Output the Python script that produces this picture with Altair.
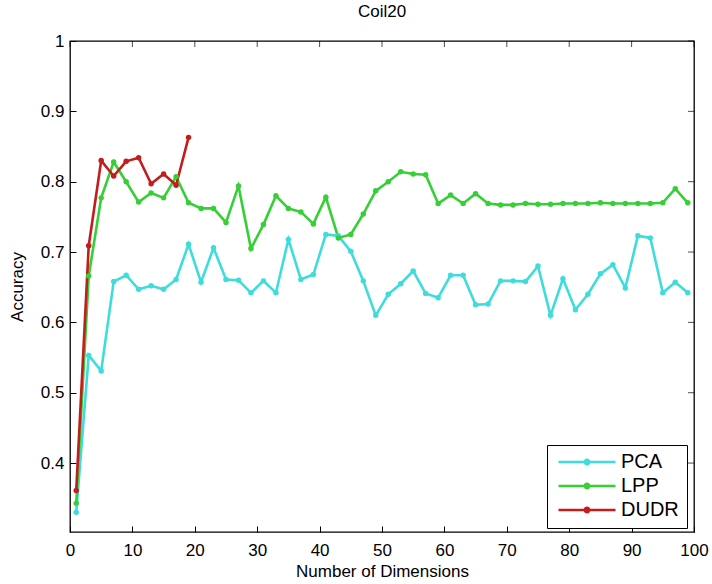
import altair as alt
import pandas as pd

# ---- data ----
dims = [1, 3, 5, 7, 9, 11, 13, 15, 17, 19, 21, 23, 25, 27, 29, 31, 33, 35, 37, 39,
        41, 43, 45, 47, 49, 51, 53, 55, 57, 59, 61, 63, 65, 67, 69, 71, 73, 75, 77, 79,
        81, 83, 85, 87, 89, 91, 93, 95, 97, 99]
pca = [0.330, 0.553, 0.531, 0.658, 0.667, 0.647, 0.652, 0.647, 0.661, 0.711,
       0.657, 0.706, 0.661, 0.660, 0.642, 0.659, 0.642, 0.718, 0.661, 0.668,
       0.725, 0.723, 0.701, 0.659, 0.610, 0.640, 0.655, 0.673, 0.641, 0.635,
       0.667, 0.667, 0.625, 0.626, 0.659, 0.659, 0.658, 0.680, 0.610, 0.662,
       0.618, 0.640, 0.669, 0.682, 0.649, 0.723, 0.720, 0.642, 0.657, 0.642]
lpp = [0.343, 0.666, 0.777, 0.828, 0.800, 0.771, 0.784, 0.777, 0.807, 0.770,
       0.762, 0.762, 0.742, 0.794, 0.705, 0.739, 0.780, 0.762, 0.757, 0.740,
       0.778, 0.720, 0.725, 0.754, 0.787, 0.800, 0.814, 0.811, 0.810, 0.769,
       0.781, 0.769, 0.783, 0.769, 0.767, 0.767, 0.769, 0.768, 0.768, 0.769,
       0.769, 0.769, 0.770, 0.769, 0.769, 0.769, 0.769, 0.770, 0.790, 0.770]
dudr_dims = [1, 3, 5, 7, 9, 11, 13, 15, 17, 19]
dudr = [0.361, 0.709, 0.830, 0.808, 0.829, 0.834, 0.797, 0.811, 0.795, 0.863]

methods = ["PCA", "LPP", "DUDR"]
colors = ["#3fdcdc", "#36cf36", "#c41c1c"]
x_ticks = [0, 10, 20, 30, 40, 50, 60, 70, 80, 90, 100]
y_ticks = [0.4, 0.5, 0.6, 0.7, 0.8, 0.9, 1.0]

rows = []
for d, v in zip(dims, pca):
    rows.append({"dim": d, "acc": v, "method": "PCA"})
for d, v in zip(dims, lpp):
    rows.append({"dim": d, "acc": v, "method": "LPP"})
for d, v in zip(dudr_dims, dudr):
    rows.append({"dim": d, "acc": v, "method": "DUDR"})
df = pd.DataFrame(rows)
xt = pd.DataFrame({"dim": x_ticks})
yt = pd.DataFrame({"acc": y_ticks})

W, H = 624, 491
FONT = "Liberation Sans"

xscale = alt.Scale(domain=[0, 100], nice=False, zero=False)
yscale = alt.Scale(domain=[0.302, 1.0], nice=False, zero=False)
xaxis = alt.Axis(values=x_ticks, title="Number of Dimensions", domain=False,
                 grid=False, offset=-6, tickSize=6, tickColor="black",
                 labelPadding=10, titlePadding=5, format="d", labelFlush=False)
yaxis = alt.Axis(values=y_ticks, title="Accuracy", domain=False, grid=False,
                 offset=-6, tickSize=6, tickColor="black", labelPadding=6,
                 titlePadding=14, format="~g", labelFlush=False)

# legend symbol: a short line with a small dot in its middle
legend_path = "M-1,0L1,0M-0.075,0A0.075,0.075,0,1,0,0.075,0A0.075,0.075,0,1,0,-0.075,0Z"
cscale = alt.Scale(domain=methods, range=colors)
leg = alt.Legend(
    orient="none", legendX=477, legendY=404, title=None,
    symbolType=legend_path, symbolSize=3249, symbolStrokeWidth=2.6,
    clipHeight=18, symbolOffset=2, labelOffset=4, labelFontSize=20,
    strokeColor="black", fillColor="white", padding=8,
    rowPadding=4, labelFont=FONT, labelColor="black",
)

xenc = alt.X("dim:Q", scale=xscale, axis=xaxis)
yenc = alt.Y("acc:Q", scale=yscale, axis=yaxis)

lines = alt.Chart(df).mark_line(strokeWidth=2.6).encode(
    x=xenc, y=yenc,
    stroke=alt.Stroke("method:N", scale=cscale, sort=methods, legend=leg),
    order=alt.Order("dim:Q"),
)
points = alt.Chart(df).mark_circle(size=30, opacity=1).encode(
    x=xenc, y=yenc,
    fill=alt.Fill("method:N", scale=cscale, sort=methods, legend=leg),
)

top_ticks = alt.Chart(xt).mark_tick(color="black", size=6, thickness=1, orient="vertical").encode(
    x=alt.X("dim:Q", scale=xscale, axis=xaxis),
    y=alt.value(3),
)
right_ticks = alt.Chart(yt).mark_tick(color="black", size=6, thickness=1, orient="horizontal").encode(
    y=alt.Y("acc:Q", scale=yscale, axis=yaxis),
    x=alt.value(W - 3),
)

chart = alt.layer(top_ticks, right_ticks, lines, points).properties(
    width=W, height=H,
    title=alt.TitleParams("Coil20", font=FONT, fontSize=17, fontWeight="normal",
                          color="black", offset=11),
    autosize=alt.AutoSizeParams(type="none"),
    padding={"left": 70, "top": 41, "right": 18, "bottom": 52},
).configure_view(
    stroke="black", strokeWidth=1.3
).configure_axis(
    labelFont=FONT, titleFont=FONT, labelFontSize=17, titleFontSize=17,
    labelColor="black", titleColor="black", titleFontWeight="normal",
)

chart.save("out.html", embed_options={"renderer": "svg", "actions": False})
